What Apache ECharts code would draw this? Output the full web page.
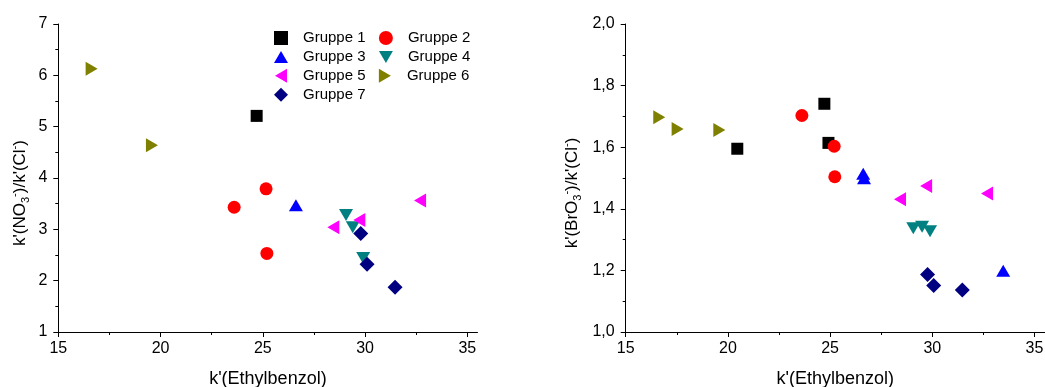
<!DOCTYPE html>
<html><head><meta charset="utf-8">
<script src="https://cdn.jsdelivr.net/npm/echarts@6/dist/echarts.min.js"></script>
<style>html,body{margin:0;padding:0;background:#fff}#c{width:1045px;height:387px}</style>
</head><body><div id="c"></div>
<script>
// ---- data ----
const groups = ['Gruppe 1','Gruppe 2','Gruppe 3','Gruppe 4','Gruppe 5','Gruppe 6','Gruppe 7'];
const xTicks = [15, 20, 25, 30, 35];

// left panel: k'(NO3-)/k'(Cl-) vs k'(Ethylbenzol)
const no3_g1 = [[24.70, 5.21]];
const no3_g2 = [[23.60, 3.43], [25.16, 3.79], [25.20, 2.53]];
const no3_g3 = [[26.62, 3.47]];
const no3_g4 = [[29.07, 3.28], [29.40, 3.04], [29.91, 2.44]];
const no3_g5 = [[28.45, 3.04], [29.72, 3.18], [32.69, 3.56]];
const no3_g6 = [[16.63, 6.13], [19.58, 4.64]];
const no3_g7 = [[29.79, 2.92], [30.10, 2.32], [31.47, 1.87]];

// right panel: k'(BrO3-)/k'(Cl-) vs k'(Ethylbenzol)
const bro3_g1 = [[24.72, 1.741], [20.46, 1.595], [24.92, 1.614]];
const bro3_g2 = [[23.62, 1.703], [25.20, 1.603], [25.23, 1.504]];
const bro3_g3 = [[26.62, 1.514], [26.66, 1.499], [33.47, 1.199]];
const bro3_g4 = [[29.07, 1.337], [29.50, 1.342], [29.89, 1.327]];
const bro3_g5 = [[28.42, 1.431], [29.70, 1.474], [32.68, 1.450]];
const bro3_g6 = [[16.64, 1.697], [17.54, 1.659], [19.58, 1.656]];
const bro3_g7 = [[29.77, 1.187], [30.07, 1.151], [31.47, 1.136]];

const no3Data = [no3_g1, no3_g2, no3_g3, no3_g4, no3_g5, no3_g6, no3_g7];
const bro3Data = [bro3_g1, bro3_g2, bro3_g3, bro3_g4, bro3_g5, bro3_g6, bro3_g7];

// ---- styles ----
const marks = [
  {symbol: 'rect', size: 12, rotate: 0, color: '#000000', icon: 'path://M0,0L11,0L11,11L0,11Z'},
  {symbol: 'circle', size: 13, rotate: 0, color: '#FF0000', icon: 'circle'},
  {symbol: 'triangle', size: [14, 12], rotate: 0, color: '#0000FF', icon: 'path://M7,0L14,12L0,12Z'},
  {symbol: 'triangle', size: [14, 12], rotate: 180, color: '#008080', icon: 'path://M0,0L14,0L7,12Z'},
  {symbol: 'triangle', size: [14, 12], rotate: 90, color: '#FF00FF', icon: 'path://M12,0L0,7L12,14Z'},
  {symbol: 'triangle', size: [14, 12], rotate: -90, color: '#808000', icon: 'path://M0,0L12,7L0,14Z'},
  {symbol: 'diamond', size: 15, rotate: 0, color: '#000080', icon: 'diamond'}
];

const FONT = 'Liberation Sans, Arial, sans-serif';
const axisLine = {show: true, lineStyle: {color: '#000', width: 1}};

function xAxis(gridIndex) {
  return {
    type: 'value', gridIndex, min: 15, max: 35.5, interval: 5,
    name: "k'(Ethylbenzol)", nameLocation: 'middle', nameGap: 38,
    nameTextStyle: {fontFamily: FONT, fontSize: 18, color: '#000'},
    axisLine,
    axisTick: {show: true, inside: false, length: 5, customValues: xTicks, lineStyle: {color: '#000'}},
    minorTick: {show: true, splitNumber: 2, length: 3, lineStyle: {color: '#000'}},
    axisLabel: {customValues: xTicks, fontFamily: FONT, fontSize: 16, color: '#000', margin: 9},
    splitLine: {show: false}
  };
}

const richName = {
  a: {fontFamily: FONT, fontSize: 17, color: '#000', lineHeight: 22, verticalAlign: 'middle'},
  sub: {fontFamily: FONT, fontSize: 11, color: '#000', lineHeight: 11, verticalAlign: 'bottom'},
  sup: {fontFamily: FONT, fontSize: 11, color: '#000', lineHeight: 11, verticalAlign: 'top'}
};

const option = {
  animation: false,
  backgroundColor: '#fff',
  legend: {
    data: groups.map((g, i) => ({name: g, icon: marks[i].icon})),
    left: 274, top: 30.5, width: 220, padding: 0,
    orient: 'horizontal', symbolKeepAspect: true,
    itemWidth: 14, itemHeight: 14, itemGap: 3.9,
    textStyle: {fontFamily: FONT, fontSize: 15, color: '#000', width: 72, lineHeight: 14, padding: [0, 0, 0, 10]}
  },
  grid: [
    {left: 58.3, top: 24, width: 419.2, height: 308, containLabel: false, outerBoundsMode: 'none'},
    {left: 625.7, top: 24, width: 419, height: 308, containLabel: false, outerBoundsMode: 'none'}
  ],
  xAxis: [xAxis(0), xAxis(1)],
  yAxis: [
    {
      type: 'value', gridIndex: 0, min: 1, max: 7, interval: 1,
      name: "{a|k'(NO}{sub|3}{sup|-}{a|)/k'(Cl}{sup|-}{a|)}",
      nameLocation: 'middle', nameRotate: 90, nameGap: 27,
      nameTextStyle: {rich: richName, padding: [0, 30, 0, 0]},
      axisLine,
      axisTick: {show: true, inside: false, length: 5, lineStyle: {color: '#000'}},
      minorTick: {show: true, splitNumber: 2, length: 3, lineStyle: {color: '#000'}},
      axisLabel: {fontFamily: FONT, fontSize: 16, color: '#000', margin: 11},
      splitLine: {show: false}
    },
    {
      type: 'value', gridIndex: 1, min: 1.0, max: 2.0, interval: 0.2,
      name: "{a|k'(BrO}{sub|3}{sup|-}{a|)/k'(Cl}{sup|-}{a|)}",
      nameLocation: 'middle', nameRotate: 90, nameGap: 42,
      nameTextStyle: {rich: richName, padding: [0, 30, 0, 0]},
      axisLine,
      axisTick: {show: true, inside: false, length: 5, lineStyle: {color: '#000'}},
      minorTick: {show: true, splitNumber: 2, length: 3, lineStyle: {color: '#000'}},
      axisLabel: {fontFamily: FONT, fontSize: 16, color: '#000', margin: 11,
        formatter: v => v.toFixed(1).replace('.', ',')},
      splitLine: {show: false}
    }
  ],
  series: []
};

groups.forEach((g, i) => {
  const m = marks[i];
  [no3Data, bro3Data].forEach((arr, p) => {
    option.series.push({
      type: 'scatter', name: g, xAxisIndex: p, yAxisIndex: p,
      data: arr[i], symbol: m.symbol, symbolSize: m.size, symbolRotate: m.rotate,
      itemStyle: {color: m.color, opacity: 1},
      emphasis: {disabled: true}
    });
  });
});

const chart = echarts.init(document.getElementById('c'), null, {renderer: 'canvas'});
chart.setOption(option);
</script>
</body></html>
